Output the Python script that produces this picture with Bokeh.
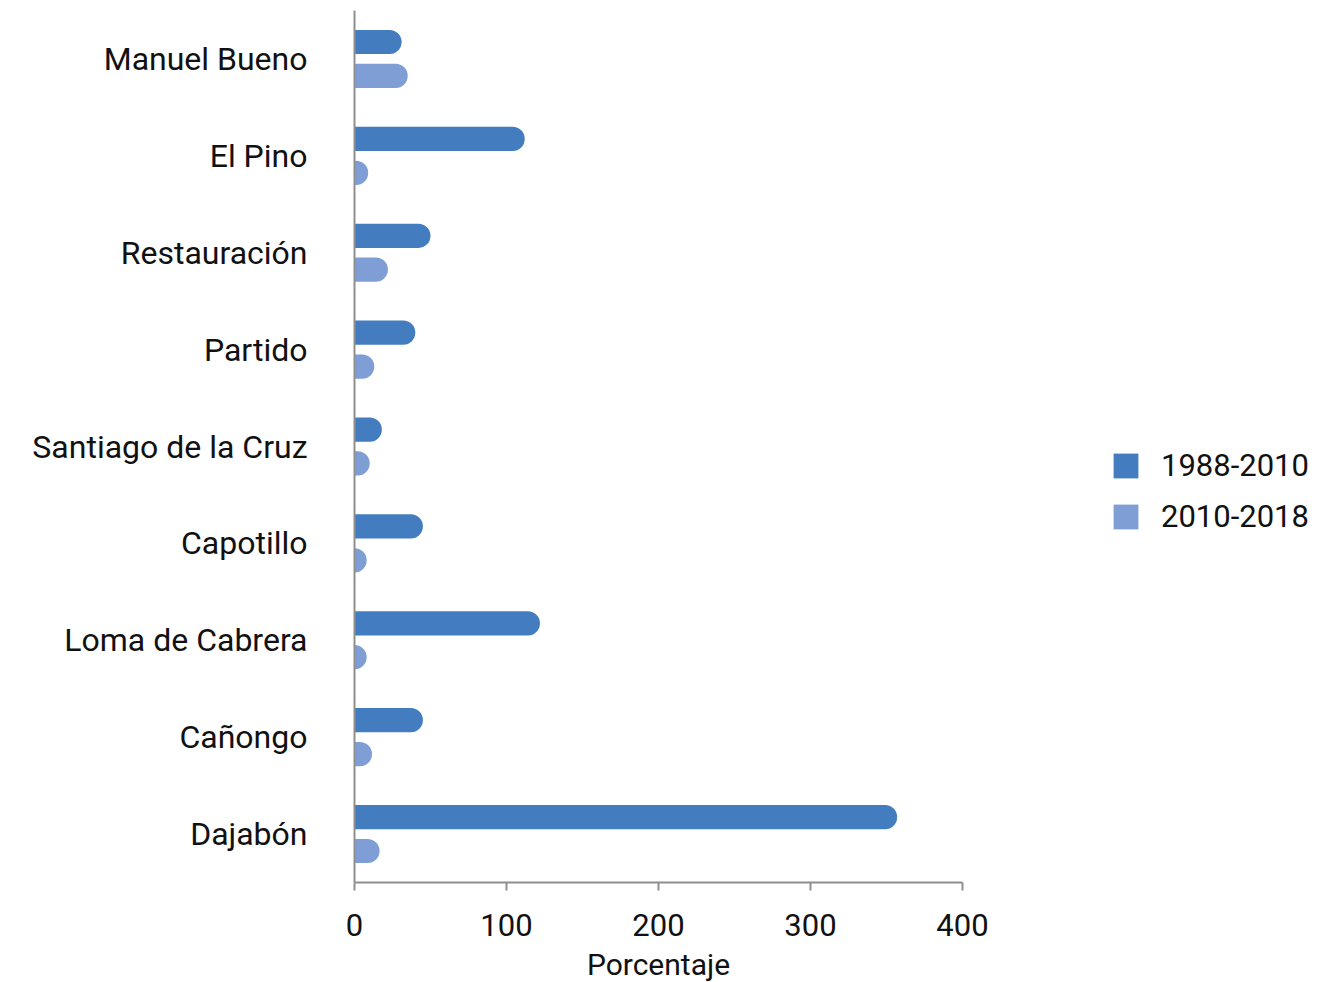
from bokeh.plotting import figure
from bokeh.models import ColumnDataSource, FactorRange, Range1d, FixedTicker, Legend, LegendItem
from bokeh.transform import dodge
from bokeh.embed import file_html
from bokeh.resources import INLINE

categories = ["Manuel Bueno", "El Pino", "Restauración", "Partido", "Santiago de la Cruz",
              "Capotillo", "Loma de Cabrera", "Cañongo", "Dajabón"]
series_names = ["1988-2010", "2010-2018"]
v_1988_2010 = [31, 112, 50, 40, 18, 45, 122, 45, 357]
v_2010_2018 = [35, 9, 22, 13, 10, 8, 8, 11.5, 16.5]
x_ticks = [0, 100, 200, 300, 400]

c1 = "#437DC0"
c2 = "#7F9ED5"

src = ColumnDataSource(dict(cat=categories, a=v_1988_2010, b=v_2010_2018))

p = figure(y_range=FactorRange(*reversed(categories), range_padding=0),
           x_range=Range1d(0, 400),
           frame_width=608, frame_height=872,
           min_border_left=354, min_border_right=350, min_border_top=10, min_border_bottom=90,
           output_backend="svg", toolbar_location=None)

r1 = p.hbar(y=dodge("cat", 0.175, range=p.y_range), left=0, right="a", height=0.25,
            source=src, color=c1, line_color=None, border_radius=(0, 12, 12, 0))
r2 = p.hbar(y=dodge("cat", -0.175, range=p.y_range), left=0, right="b", height=0.25,
            source=src, color=c2, line_color=None, border_radius=(0, 12, 12, 0))

p.xgrid.visible = False
p.ygrid.visible = False
p.outline_line_color = None

font = "Roboto"
ax = p.xaxis[0]
ax.ticker = FixedTicker(ticks=x_ticks)
ax.axis_line_color = "#8f8f8f"
ax.axis_line_width = 2
ax.major_tick_line_color = "#8f8f8f"
ax.major_tick_line_width = 2
ax.major_tick_out = 8
ax.major_tick_in = 0
ax.minor_tick_line_color = None
ax.major_label_text_font = font
ax.major_label_text_font_size = "31px"
ax.major_label_text_color = "#111111"
ax.major_label_standoff = 23
ax.axis_label = "Porcentaje"
ax.axis_label_text_font = font
ax.axis_label_text_font_size = "30px"
ax.axis_label_text_font_style = "normal"
ax.axis_label_text_color = "#111111"
ax.axis_label_standoff = 8

ay = p.yaxis[0]
ay.axis_line_color = "#8f8f8f"
ay.axis_line_width = 2
ay.major_tick_line_color = None
ay.minor_tick_line_color = None
ay.major_label_text_font = font
ay.major_label_text_font_size = "32px"
ay.major_label_text_color = "#111111"
ay.major_label_standoff = 41

legend = Legend(items=[LegendItem(label=series_names[0], renderers=[r1]),
                       LegendItem(label=series_names[1], renderers=[r2])],
                location=(148, 347), padding=0, margin=0, spacing=14,
                glyph_width=31, glyph_height=31, label_height=25, label_standoff=20,
                label_text_font=font, label_text_font_size="31px", label_text_color="#111111",
                border_line_color=None, background_fill_alpha=0)
p.add_layout(legend, "right")

open("out.html", "w").write(file_html(p, INLINE))
